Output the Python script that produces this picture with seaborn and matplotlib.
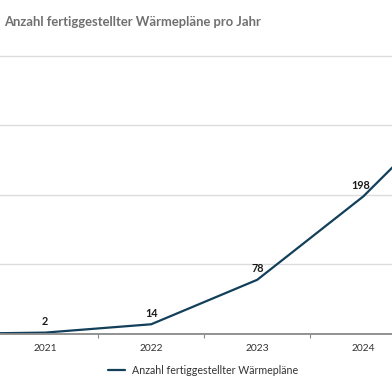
import pandas as pd
import matplotlib
matplotlib.use("Agg")
import matplotlib.pyplot as plt
import seaborn as sns

# data (2025 runs off the right edge, estimated)
years = ["2020", "2021", "2022", "2023", "2024", "2025"]
plans = [0, 2, 14, 78, 198, 350]
shown_labels = ["", "2", "14", "78", "198", ""]

title = "Anzahl fertiggestellter Wärmepläne pro Jahr"
series_name = "Anzahl fertiggestellter Wärmepläne"

LINE = "#123f5a"


def main():
    df = pd.DataFrame({"Jahr": years, "Anzahl": plans})
    df["pos"] = range(len(df))

    sns.set_theme(style="white")
    plt.rcParams["font.family"] = ["Lato", "DejaVu Sans"]

    fig = plt.figure(figsize=(3.92, 3.92), dpi=100)
    ax = fig.add_axes([0.0, 58 / 392, 1.0, 285 / 392])

    sns.lineplot(data=df, x="pos", y="Anzahl", color=LINE, linewidth=1.6,
                 label=series_name, ax=ax, legend=False)

    # value labels above the points
    for p, v, lab in zip(df["pos"], df["Anzahl"], shown_labels):
        if lab:
            dx = -2 if v > 100 else 0
            ax.annotate(lab, (p, v), xytext=(dx, 4), textcoords="offset points",
                        ha="center", va="bottom", fontsize=7.8,
                        fontweight="bold", color="#1a1a1a")

    ax.set_ylim(0, 410)
    ax.set_yticks([0, 100, 200, 300, 400])
    ax.yaxis.grid(True, color="#dcdcdc", linewidth=1.0)
    ax.set_axisbelow(True)
    ax.tick_params(axis="y", left=False, labelleft=False)

    # only the years inside the visible window get a label
    visible = df[(df["pos"] >= 1) & (df["pos"] <= 4)]
    ax.set_xticks(visible["pos"])
    ax.set_xticklabels(visible["Jahr"])
    ax.set_xticks([p + 0.5 for p in df["pos"]], minor=True)
    ax.tick_params(axis="x", which="major", length=0, pad=7,
                   labelsize=7.4, labelcolor="#333333")
    ax.tick_params(axis="x", which="minor", bottom=True, length=3,
                   width=0.8, color="#888888", direction="out")
    ax.set_xlim(0.575, 4.27)
    ax.set_xlabel("")
    ax.set_ylabel("")

    for side in ["top", "left", "right"]:
        ax.spines[side].set_visible(False)
    ax.spines["bottom"].set_color("#8a8a8a")
    ax.spines["bottom"].set_linewidth(1.3)

    fig.text(4 / 392, 1 - 22 / 392, title, ha="left", va="center",
             fontsize=9.4, fontweight="bold", color="#707070")

    handles, labels = ax.get_legend_handles_labels()
    fig.legend(handles, labels, loc="center", bbox_to_anchor=(0.518, 1 - 370 / 392),
               frameon=False, fontsize=7.7, handlelength=1.6, handletextpad=0.6,
               labelcolor="#333333")

    fig.savefig("out.png", dpi=100)


if __name__ == "__main__":
    main()
